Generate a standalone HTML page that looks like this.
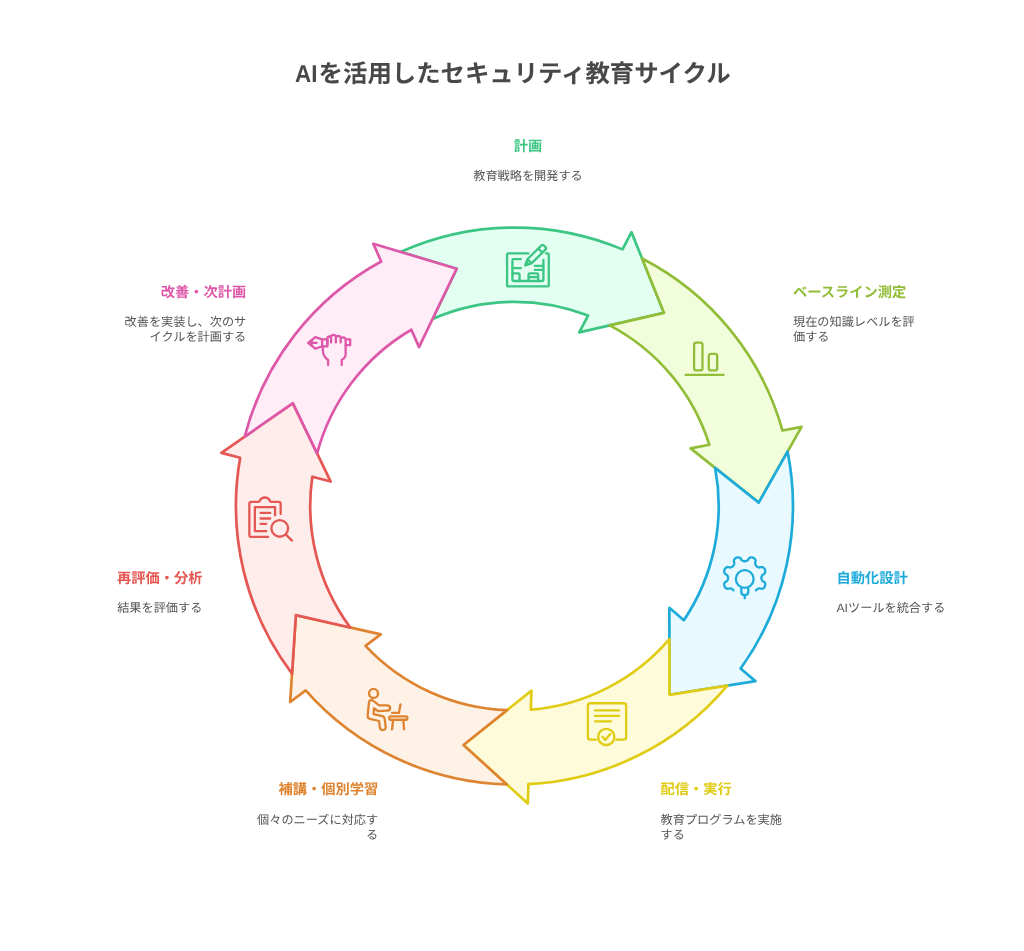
<!DOCTYPE html>
<html lang="ja">
<head>
<meta charset="utf-8">
<title>AIを活用したセキュリティ教育サイクル</title>
<style>
html,body{margin:0;padding:0;background:#ffffff;}
body{width:1024px;height:951px;overflow:hidden;}
svg{display:block;opacity:0.999;will-change:transform;}
svg text{font-family:"Liberation Sans","Noto Sans CJK JP",sans-serif;text-rendering:geometricPrecision;}
</style>
</head>
<body>
<svg width="1024" height="951" viewBox="0 0 1024 951">
<g stroke-width="2.70" stroke-linejoin="round">
<path d="M400.54 251.91 A278.50 278.50 0 0 1 622.53 249.38 L631.49 232.19 L664.04 312.91 L579.21 332.37 L588.01 315.51 A204.25 204.25 0 0 0 432.58 318.92 L456.71 268.67 Z" fill="#e3fff2" stroke="#3cc583"/>
<path d="M642.12 258.54 A278.50 278.50 0 0 1 782.51 430.51 L801.54 426.81 L758.73 502.58 L690.62 448.40 L709.29 444.76 A204.25 204.25 0 0 0 609.71 325.37 L664.04 312.91 Z" fill="#f2fedb" stroke="#92bd39"/>
<path d="M787.56 451.54 A278.50 278.50 0 0 1 740.64 668.53 L755.40 681.10 L669.46 694.87 L669.37 607.84 L683.85 620.17 A204.25 204.25 0 0 0 715.10 467.87 L758.73 502.58 Z" fill="#e8f9ff" stroke="#1eabda"/>
<path d="M727.35 685.59 A278.50 278.50 0 0 1 528.44 784.20 L527.82 803.57 L463.47 744.97 L531.46 690.63 L530.84 709.64 A204.25 204.25 0 0 0 669.40 639.12 L669.46 694.87 Z" fill="#fefbdb" stroke="#e0cb15"/>
<path d="M506.82 784.45 A278.50 278.50 0 0 1 305.71 690.41 L290.17 702.01 L295.87 615.16 L380.74 634.43 L365.50 645.80 A204.25 204.25 0 0 0 507.02 710.16 L463.47 744.97 Z" fill="#fef2e6" stroke="#de8431"/>
<path d="M292.03 673.66 A278.50 278.50 0 0 1 240.16 457.80 L221.41 452.88 L292.86 403.19 L330.71 481.56 L312.32 476.73 A204.25 204.25 0 0 0 350.23 627.50 L295.87 615.16 Z" fill="#ffedeb" stroke="#e55753"/>
<path d="M244.73 436.66 A278.50 278.50 0 0 1 381.16 261.52 L373.31 243.79 L456.71 268.67 L419.04 347.13 L411.34 329.73 A204.25 204.25 0 0 0 317.11 453.39 L292.86 403.19 Z" fill="#feecf7" stroke="#de58a9"/>
</g>
<g fill="none" stroke="#3cc583" color="#3cc583" stroke-width="2.3" stroke-linecap="round" stroke-linejoin="round">
<path d="M 528.39 253.38 L 508.52 253.38 Q 507.07 253.38 507.07 254.83 L 507.07 284.92 Q 507.07 286.37 508.52 286.37 L 547.32 286.37 Q 548.77 286.37 548.77 284.92 L 548.77 254.83 Q 548.77 253.38 547.32 253.38 L 545.93 253.38"/>
<path d="M 520.82 259.05 L 513.56 259.05 Q 512.43 259.05 512.43 260.19 L 512.43 279.75 Q 512.43 281.01 513.69 281.01 L 541.96 281.01 Q 543.41 281.01 543.41 279.62 L 543.41 259.87"/>
<path d="M 512.43 268.20 L 520.82 268.20"/>
<path d="M 534.83 265.87 L 543.41 265.87 M 534.83 269.97 L 543.41 269.97"/>
<path d="M 512.43 273.44 L 518.30 273.44 Q 519.56 273.44 519.56 274.70 L 519.56 281.01"/>
<path d="M 528.52 281.01 L 528.52 274.70 Q 528.52 273.44 529.78 273.44 L 536.91 273.44 Q 538.17 273.44 538.17 274.70 L 538.17 281.01 M 529.65 277.22 L 537.22 277.22"/>
<g transform="translate(525.43 265.24) rotate(-44.5)"><path d="M0 0 L5.6 -2.9 L25.3 -2.9 Q27 -2.9 27 -1.2 L27 1.2 Q27 2.9 25.3 2.9 L5.6 2.9 Z M21 -2.9 L21 2.9 M5.6 -2.9 L5.6 2.9" /><path d="M0 0 L2.6 -1.35 L2.6 1.35 Z" fill="currentColor"/></g>
</g>
<g fill="none" stroke="#92bd39" color="#92bd39" stroke-width="2.3" stroke-linecap="round" stroke-linejoin="round">
<path d="M685.6 374.9 L723.6 374.9"/>
<rect x="694.1" y="342.6" width="8.4" height="27.8" rx="2.2"/>
<rect x="708.8" y="353.8" width="8.4" height="16.6" rx="2.2"/>
</g>
<g fill="none" stroke="#1eabda" color="#1eabda" stroke-width="2.3" stroke-linecap="round" stroke-linejoin="round">
<path d="M733.44 590.24 L733.19 589.92 L732.92 589.63 L732.61 589.36 L732.28 589.12 L731.92 588.91 L731.51 588.72 L731.06 588.55 L730.55 588.41 L729.93 588.33 L728.74 588.60 L727.52 588.82 L726.88 588.64 L726.34 588.37 L725.88 588.04 L725.47 587.67 L725.12 587.26 L724.83 586.82 L724.59 586.36 L724.41 585.86 L724.28 585.35 L724.22 584.82 L724.22 584.28 L724.29 583.72 L724.44 583.16 L724.71 582.58 L725.22 581.97 L726.70 581.21 L727.16 580.69 L727.46 580.22 L727.68 579.78 L727.85 579.35 L727.97 578.93 L728.05 578.53 L728.09 578.12 L728.09 577.72 L728.05 577.32 L727.97 576.92 L727.86 576.50 L727.70 576.08 L727.48 575.63 L727.19 575.17 L726.75 574.65 L725.30 573.91 L724.74 573.29 L724.46 572.71 L724.30 572.14 L724.22 571.58 L724.22 571.04 L724.28 570.51 L724.40 569.99 L724.57 569.50 L724.81 569.03 L725.09 568.59 L725.44 568.18 L725.84 567.80 L726.30 567.47 L726.82 567.19 L727.46 567.00 L728.43 567.06 L729.86 567.49 L730.50 567.41 L731.02 567.28 L731.47 567.11 L731.88 566.92 L732.25 566.71 L732.59 566.47 L732.89 566.21 L733.17 565.92 L733.42 565.60 L733.64 565.25 L733.85 564.87 L734.03 564.44 L734.18 563.96 L734.29 563.39 L734.31 562.65 L733.80 561.06 L733.91 560.32 L734.15 559.74 L734.45 559.24 L734.80 558.81 L735.19 558.44 L735.62 558.12 L736.08 557.86 L736.56 557.65 L737.06 557.50 L737.58 557.41 L738.12 557.37 L738.67 557.41 L739.23 557.52 L739.80 557.73 L740.40 558.10 L741.16 559.49 L741.73 560.14 L742.22 560.50 L742.67 560.75 L743.11 560.94 L743.53 561.08 L743.94 561.18 L744.34 561.24 L744.74 561.26 L745.14 561.24 L745.55 561.18 L745.96 561.08 L746.38 560.94 L746.81 560.75 L747.27 560.50 L747.75 560.14 L748.32 559.49 L749.09 558.10 L749.68 557.73 L750.25 557.52 L750.81 557.41 L751.36 557.37 L751.90 557.41 L752.42 557.50 L752.93 557.65 L753.41 557.86 L753.86 558.12 L754.29 558.44 L754.68 558.81 L755.03 559.24 L755.34 559.74 L755.57 560.32 L755.68 561.06 L755.18 562.65 L755.19 563.39 L755.30 563.96 L755.46 564.44 L755.64 564.87 L755.84 565.25 L756.07 565.60 L756.32 565.92 L756.59 566.21 L756.90 566.47 L757.23 566.71 L757.60 566.92 L758.01 567.11 L758.47 567.28 L758.99 567.41 L759.62 567.49 L761.06 567.06 L762.02 567.00 L762.66 567.19 L763.19 567.47 L763.65 567.80 L764.05 568.18 L764.39 568.59 L764.68 569.03 L764.91 569.50 L765.09 569.99 L765.21 570.51 L765.27 571.04 L765.26 571.58 L765.19 572.14 L765.03 572.71 L764.74 573.29 L764.18 573.91 L762.73 574.65 L762.30 575.17 L762.00 575.63 L761.79 576.08 L761.63 576.50 L761.51 576.92 L761.43 577.32 L761.40 577.72 L761.40 578.12 L761.44 578.53 L761.52 578.93 L761.64 579.35 L761.81 579.78 L762.03 580.22 L762.33 580.69 L762.78 581.21 L764.26 581.97 L764.78 582.58 L765.05 583.16 L765.20 583.72 L765.27 584.28 L765.26 584.82 L765.20 585.35 L765.07 585.86 L764.89 586.36 L764.65 586.82 L764.36 587.26 L764.01 587.67 L763.61 588.04 L763.14 588.37 L762.61 588.64 L761.96 588.82 L760.75 588.60 L759.56 588.33 L758.94 588.41 L758.42 588.55 L757.97 588.72 L757.57 588.91 L757.20 589.12 L756.87 589.36 L756.57 589.63 L756.29 589.92 L756.04 590.24"/>
<circle cx="744.74" cy="579.01" r="8.9"/>
<path d="M 741.28 588.21 L 741.28 591.52 Q 741.28 595.20 744.74 595.20 Q 748.27 595.20 748.27 591.52 L 748.27 588.21 M 744.74 595.35 L 744.74 598.30"/>
</g>
<g fill="none" stroke="#e0cb15" color="#e0cb15" stroke-width="2.3" stroke-linecap="round" stroke-linejoin="round">
<path d="M 595.98 739.68 L 590.31 739.68 Q 587.88 739.68 587.88 737.25 L 587.88 705.68 Q 587.88 703.25 590.31 703.25 L 623.73 703.25 Q 626.16 703.25 626.16 705.68 L 626.16 737.25 Q 626.16 739.68 623.73 739.68 L 616.37 739.68"/>
<path d="M 595.02 710.46 L 619.02 710.46 M 595.02 715.91 L 619.02 715.91 M 595.02 721.43 L 610.92 721.43"/>
<circle cx="606.28" cy="736.89" r="8.1"/>
<path d="M 602.38 736.74 L 605.18 740.05 L 610.18 733.94"/>
</g>
<g fill="none" stroke="#de8431" color="#de8431" stroke-width="2.3" stroke-linecap="round" stroke-linejoin="round">
<circle cx="373.55" cy="693.40" r="4.5"/>
<path d="M 372.08 699.88 L 379.07 705.33 L 386.80 705.33 Q 390.11 705.33 390.11 707.98 Q 390.11 710.70 386.80 710.70 L 378.34 711.21 L 373.92 708.27 L 373.55 714.01 L 382.39 716.22 Q 384.45 716.81 384.74 719.16 L 385.70 727.11 Q 385.85 730.06 382.90 730.06 Q 380.18 730.06 379.81 727.11 L 379.07 721.00 L 369.87 718.80 Q 367.30 718.06 367.67 715.48 L 368.99 702.38 Q 369.28 700.03 372.08 699.88 Z"/>
<path d="M 390.63 716.37 L 405.94 716.37 Q 407.41 716.37 407.41 718.06 Q 407.41 719.75 405.94 719.75 L 390.63 719.75 Q 389.16 719.75 389.16 718.06 Q 389.16 716.37 390.63 716.37 Z"/>
<path d="M 393.06 720.27 L 392.03 729.32 M 403.29 720.27 L 404.10 729.32"/>
<path d="M 400.49 704.29 L 398.95 712.91 L 392.10 712.91"/>
</g>
<g fill="none" stroke="#e55753" color="#e55753" stroke-width="2.3" stroke-linecap="round" stroke-linejoin="round">
<path d="M 280.64 514.07 L 280.64 503.77 Q 280.64 501.78 278.65 501.78 L 271.21 501.78 Q 270.18 501.78 269.74 500.60 C 268.71 498.40 266.80 497.51 264.81 497.51 C 262.82 497.51 260.91 498.40 259.88 500.60 Q 259.44 501.78 258.41 501.78 L 251.34 501.78 Q 249.35 501.78 249.35 503.77 L 249.35 534.90 Q 249.35 536.89 251.34 536.89 L 268.12 536.89"/>
<path d="M 275.11 515.33 L 275.11 507.08 L 254.87 507.08 L 254.87 531.22 L 266.28 531.22"/>
<path d="M 260.54 512.97 L 270.18 512.97 M 260.54 518.49 L 270.18 518.49 M 260.54 523.86 L 266.28 523.86"/>
<circle cx="279.75" cy="528.43" r="8.3"/>
<path d="M 285.93 534.61 L 292.04 540.57"/>
</g>
<g fill="none" stroke="#de58a9" color="#de58a9" stroke-width="2.3" stroke-linecap="round" stroke-linejoin="round">
<path d="M 308.40 342.82 L 315.24 337.08 L 322.09 339.44 L 322.09 346.28 L 315.24 348.71 Z M 309.35 342.82 L 316.71 342.82"/>
<path d="M 308.40 342.82 L 311.56 340.39 L 311.56 345.25 Z" fill="currentColor"/>
<path d="M 322.09 339.44 L 327.39 339.44 L 327.39 346.28 L 322.09 346.28"/>
<path d="M 345.79 339.44 L 350.20 339.44 L 350.20 345.18 L 345.79 345.18"/>
<path d="M 327.39 344.44 L 327.39 338.19 Q 327.53 336.49 329.23 336.49 Q 330.92 336.49 331.07 337.96 L 331.07 342.60 M 331.07 337.96 L 331.07 336.71 Q 331.43 334.87 333.42 334.87 Q 335.48 334.87 335.85 336.71 L 335.85 342.60 M 335.85 337.08 Q 336.22 335.98 338.28 335.98 Q 340.27 335.98 340.64 337.45 L 340.64 342.60 M 340.64 338.55 Q 341.00 337.45 342.99 337.45 Q 345.42 337.45 345.64 339.66 L 345.64 354.01 Q 345.64 357.69 341.74 360.05 L 341.74 365.05"/>
<path d="M 322.82 346.65 L 322.82 349.96 Q 322.82 356.22 328.12 360.05 L 328.12 365.05"/>
</g>
<text y="82" font-weight="700" fill="#484848"><tspan x="295.0" font-size="24.3" textLength="22.4" lengthAdjust="spacingAndGlyphs">AI</tspan><tspan x="318.6" font-size="24.4">を活用したセキュリティ教育サイクル</tspan></text>
<text x="528.0" y="151" text-anchor="middle" font-size="14.25" font-weight="700" fill="#3cc583">計画</text>
<text x="528.0" y="180" text-anchor="middle" font-size="12.18" fill="#555555">教育戦略を開発する</text>
<text x="793.0" y="297" text-anchor="start" font-size="14.25" font-weight="700" fill="#92bd39">ベースライン測定</text>
<text x="793.0" y="326" text-anchor="start" font-size="12.18" fill="#555555">現在の知識レベルを評</text>
<text x="793.0" y="341" text-anchor="start" font-size="12.18" fill="#555555">価する</text>
<text x="836.5" y="583" text-anchor="start" font-size="14.25" font-weight="700" fill="#1eabda">自動化設計</text>
<text x="836.5" y="612" text-anchor="start" font-size="12.18" fill="#555555">AIツールを統合する</text>
<text x="660.6" y="794" text-anchor="start" font-size="14.25" font-weight="700" fill="#e0cb15">配信・実行</text>
<text x="660.6" y="824" text-anchor="start" font-size="12.18" fill="#555555">教育プログラムを実施</text>
<text x="660.6" y="839" text-anchor="start" font-size="12.18" fill="#555555">する</text>
<text x="378.2" y="794" text-anchor="end" font-size="14.25" font-weight="700" fill="#de8431">補講・個別学習</text>
<text x="378.2" y="824" text-anchor="end" font-size="12.18" fill="#555555">個々のニーズに対応す</text>
<text x="378.2" y="839" text-anchor="end" font-size="12.18" fill="#555555">る</text>
<text x="202.4" y="583" text-anchor="end" font-size="14.25" font-weight="700" fill="#e55753">再評価・分析</text>
<text x="202.4" y="612" text-anchor="end" font-size="12.18" fill="#555555">結果を評価する</text>
<text x="246.3" y="297" text-anchor="end" font-size="14.25" font-weight="700" fill="#de58a9">改善・次計画</text>
<text x="246.3" y="326" text-anchor="end" font-size="12.18" fill="#555555">改善を実装し、次のサ</text>
<text x="246.3" y="341" text-anchor="end" font-size="12.18" fill="#555555">イクルを計画する</text>
</svg>
</body>
</html>
